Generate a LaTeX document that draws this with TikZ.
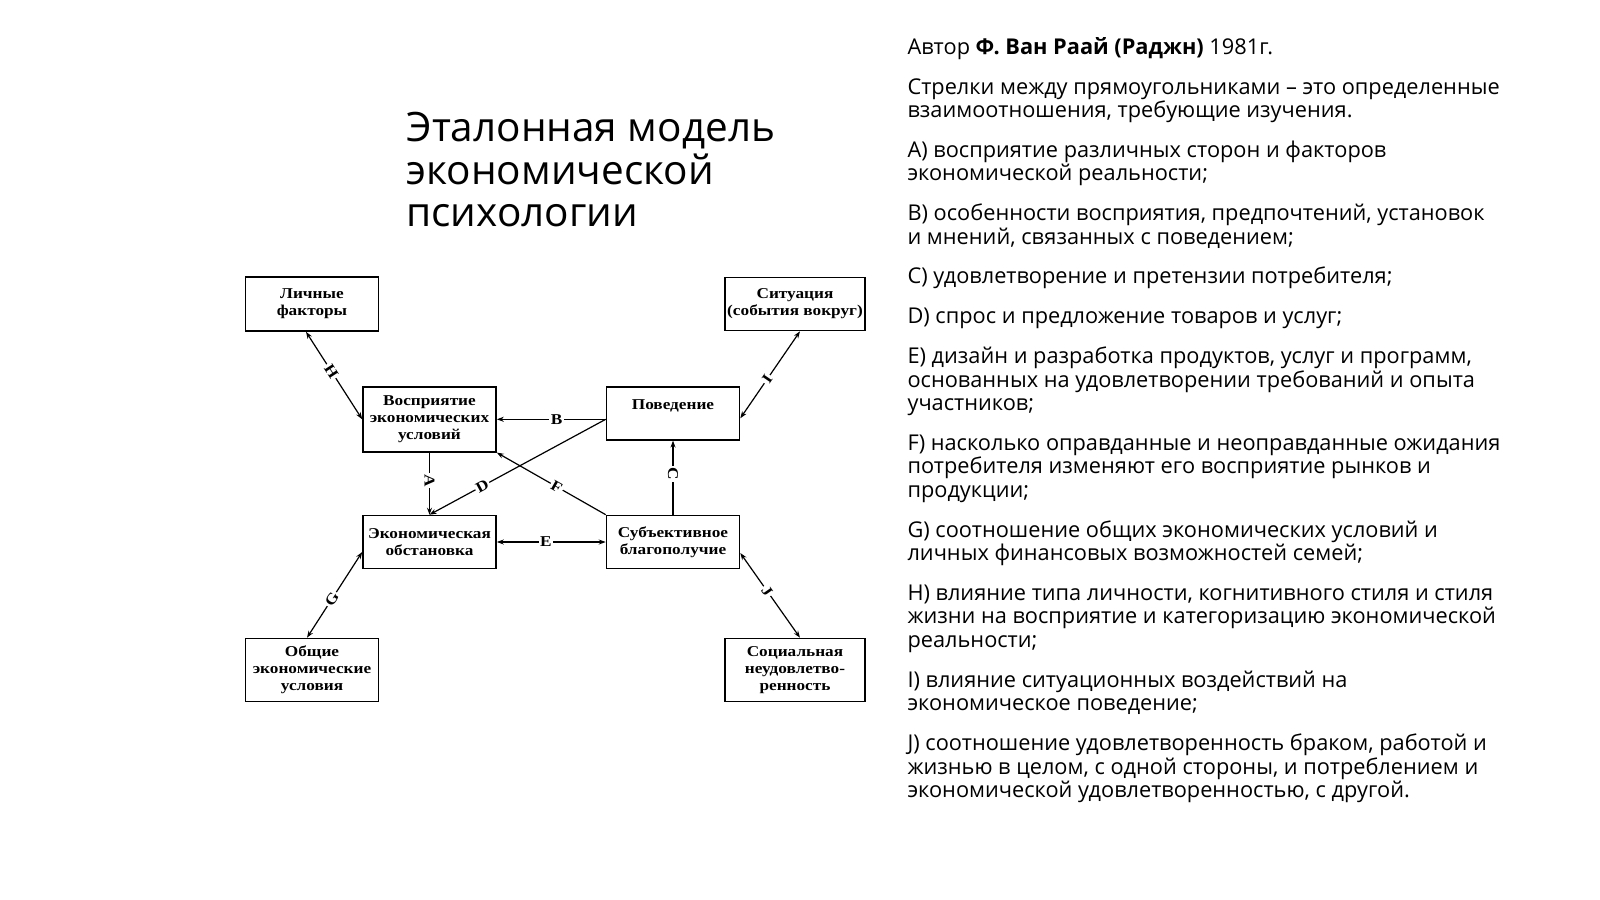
\documentclass[tikz,border=0pt]{standalone}
\usepackage{fontspec}
\setmainfont{Open Sans}
\newfontfamily\boxfont[FakeStretch=1.15]{Liberation Serif}
\usetikzlibrary{arrows.meta}

\tikzset{
  blk/.style={draw, line width=1.6pt, align=center, inner sep=2pt, minimum width=133pt, minimum height=53pt, font=\boxfont\fontsize{15}{17}\selectfont\bfseries},
  blk3/.style={blk, minimum height=63pt},
  lbl/.style={fill=white, inner sep=1.5pt, sloped, pos=0.45, font=\boxfont\fontsize{15}{17}\selectfont\bfseries},
  conn/.style={line width=1.2pt, >={Stealth[length=7pt,width=5pt]}}
}

\begin{document}
\begin{tikzpicture}[x=1pt,y=-1pt]
\useasboundingbox[fill=white] (0,0) rectangle (1600,899);

\node (ttl) [anchor=base west, align=left, font=\fontsize{40.5}{42.5}\selectfont] at (403,226.5) {Эталонная модель\\экономической\\психологии};

\node (txt) [anchor=base west, align=left, font=\fontsize{21.75}{23.5}\selectfont] at (904,797.5) {Автор \textbf{Ф. Ван Раай (Раджн)} 1981г.\\[16.3pt]
Стрелки между прямоугольниками – это определенные\\взаимоотношения, требующие изучения.\\[16.3pt]
A) восприятие различных сторон и факторов\\экономической реальности;\\[16.3pt]
B) особенности восприятия, предпочтений, установок\\и мнений, связанных с поведением;\\[16.3pt]
C) удовлетворение и претензии потребителя;\\[16.3pt]
D) спрос и предложение товаров и услуг;\\[16.3pt]
E) дизайн и разработка продуктов, услуг и программ,\\основанных на удовлетворении требований и опыта\\участников;\\[16.3pt]
F) насколько оправданные и неоправданные ожидания\\потребителя изменяют его восприятие рынков и\\продукции;\\[16.3pt]
G) соотношение общих экономических условий и\\личных финансовых возможностей семей;\\[16.3pt]
H) влияние типа личности, когнитивного стиля и стиля\\жизни на восприятие и категоризацию экономической\\реальности;\\[16.3pt]
I) влияние ситуационных воздействий на\\экономическое поведение;\\[16.3pt]
J) соотношение удовлетворенность браком, работой и\\жизнью в целом, с одной стороны, и потреблением и\\экономической удовлетворенностью, с другой.};

\matrix (m) [inner sep=0pt, column sep={117.5pt,between origins}, row sep={82pt,between origins}] at (555.25,489.25) {
\node (lf) [blk, minimum height=54pt] {Личные\\факторы}; & &[126pt] &[4.5pt] \node (sit) [blk, minimum width=140pt] {Ситуация\\(события вокруг)}; \\
& \node (vos) [blk3, anchor=north, minimum height=65pt] {Восприятие\\экономических\\условий}; & \node (pov) [blk, anchor=north] {Поведение\\ \mbox{}}; & \\[74pt]
& \node (eco) [blk] {Экономическая\\обстановка}; & \node (sub) [blk] {Субъективное\\благополучие}; & \\[46pt]
\node (obs) [blk3] {Общие\\экономические\\условия}; & & & \node (soc) [blk3, minimum width=140pt] {Социальная\\неудовлетво-\\ренность}; \\
};

\path[conn]
([xshift=-6pt]lf.south) edge[<->] node[lbl] {H} (vos.west)
([yshift=-5pt]pov.east) edge[<->] node[lbl] {I} ([xshift=5pt]sit.south)
(pov.west |- vos.east) edge[->] node[lbl] {B} (vos.east)
(pov.west |- vos.east) edge[->] node[lbl, pos=0.7] {D} (eco.north)
(vos.south) edge[->] node[lbl] {A} (vos.south |- eco.north)
(sub.north west) edge[->] node[lbl] {F} (vos.south east)
(sub.north |- pov.south) edge[<-] node[lbl] {C} (sub.north)
(eco.east) edge[<->] node[lbl] {E} (eco.east -| sub.west)
([xshift=-5pt]obs.north) edge[<->] node[lbl] {G} ([yshift=-10pt]eco.west)
([yshift=-11pt]sub.east) edge[<->] node[lbl] {J} ([xshift=5pt]soc.north)
;
\end{tikzpicture}
\end{document}
